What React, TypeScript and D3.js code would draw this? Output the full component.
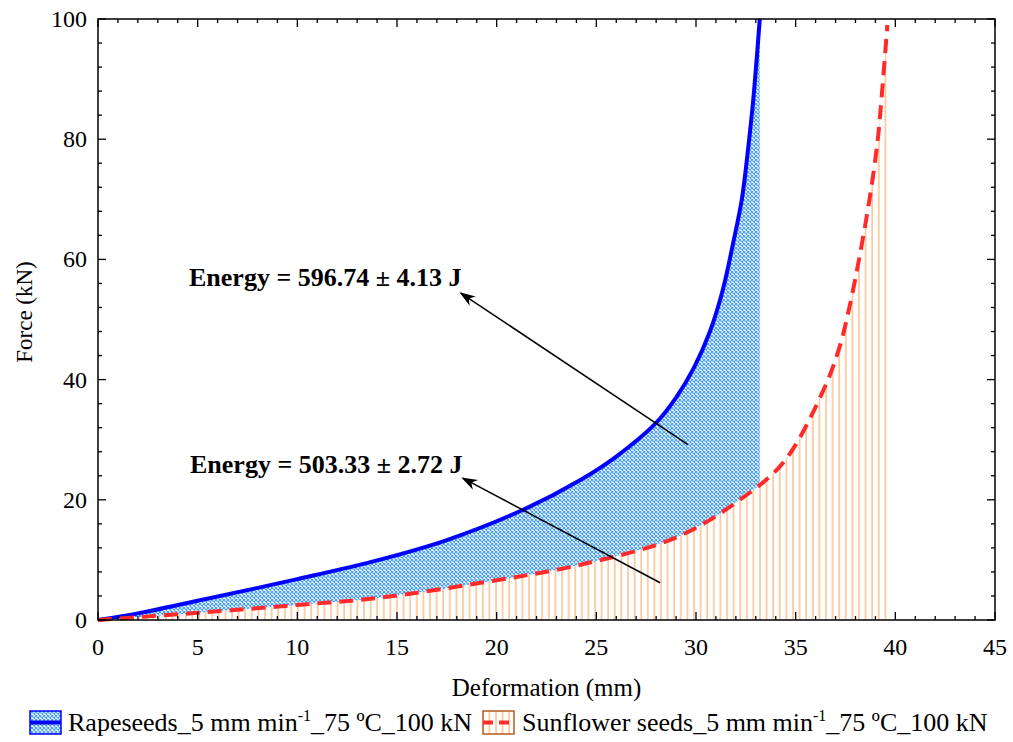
import React from "react";
import * as d3 from "d3";

const rapeDef = [0, 2, 5, 10, 14.1, 17.5, 21.3, 24.2, 26, 28, 29, 29.9, 30.7, 31.35, 31.85, 32.3, 32.6, 32.87, 33.2];
const rapeForce = [0, 1.1, 3.2, 6.8, 10, 13.3, 18.3, 23.3, 27.2, 32.8, 37, 42, 48, 55, 62.5, 70, 78, 86.5, 100];
const sunDef = [0, 5, 10, 14.1, 19.2, 24.2, 29.05, 32.2, 34.4, 36.4, 37.2, 37.7, 38.2, 38.7, 39.1, 39.3, 39.6];
const sunForce = [0, 1.2, 2.5, 3.7, 6.2, 9.2, 13.8, 20, 26.3, 38.3, 45.4, 52.1, 60.4, 69.9, 79.4, 86.5, 99];
const xTicks = [0, 5, 10, 15, 20, 25, 30, 35, 40, 45];
const yTicks = [0, 20, 40, 60, 80, 100];
const annotations = [
  { label: "Energy = 596.74 ± 4.13 J", tx: 189, ty: 286, from: [29.6, 29.2], to: [18.2, 54.4] },
  { label: "Energy = 503.33 ± 2.72 J", tx: 190, ty: 473, from: [28.2, 6.2], to: [18.3, 23.6] },
];

const W = 1013, H = 742;
const L = 98, R = 995, T = 19, B = 620;
const font = "Liberation Serif";

export default function App() {
  const x = d3.scaleLinear().domain([0, 45]).range([L, R]);
  const y = d3.scaleLinear().domain([0, 100]).range([B, T]);
  const rape = rapeDef.map((d, i) => [d, rapeForce[i]] as [number, number]);
  const sun = sunDef.map((d, i) => [d, sunForce[i]] as [number, number]);
  const curve = d3.curveCatmullRom.alpha(0.5);
  const line = d3.line<[number, number]>().x(d => x(d[0])).y(d => y(d[1])).curve(curve);
  const area = d3.area<[number, number]>().x(d => x(d[0])).y0(y(0)).y1(d => y(d[1])).curve(curve);
  const minorX = d3.range(0, 46, 1);
  const minorY = d3.range(0, 101, 4);
  const tf = { fontFamily: font };
  return (
    <svg width={W} height={H} style={{ position: "absolute", left: 0, top: 0 }}>
      <defs>
        <pattern id="blueHatch" patternUnits="userSpaceOnUse" width="4" height="4">
          <rect width="4" height="4" fill="#ffffff" />
          <path d="M0,0 L4,4 M4,0 L0,4" stroke="#3f9cf5" strokeWidth="1.1" />
        </pattern>
        <pattern id="orangeHatch" patternUnits="userSpaceOnUse" width="6.6" height="10">
          <rect width="6.6" height="10" fill="#ffffff" />
          <line x1="1" y1="0" x2="1" y2="10" stroke="#f7b77c" strokeWidth="1.3" />
        </pattern>
        <marker id="arr" viewBox="0 0 10 10" refX="9" refY="5" markerWidth="16" markerHeight="16" markerUnits="userSpaceOnUse" orient="auto">
          <path d="M0,1.5 L10,5 L0,8.5 L3,5 Z" fill="#000" />
        </marker>
      </defs>
      <rect x={0} y={0} width={W} height={H} fill="#fff" />
      <path d={area(rape) || ""} fill="url(#blueHatch)" />
      <path d={area(sun) || ""} fill="url(#orangeHatch)" />
      <path d={line(rape) || ""} fill="none" stroke="#0000ff" strokeWidth={4} />
      <path d={line(sun) || ""} fill="none" stroke="#ff2a2a" strokeWidth={4} strokeDasharray="14,8" />
      {annotations.map((a, i) => (
        <g key={i}>
          <line x1={x(a.from[0])} y1={y(a.from[1])} x2={x(a.to[0])} y2={y(a.to[1])} stroke="#000" strokeWidth={1.5} markerEnd="url(#arr)" />
          <text x={a.tx} y={a.ty} fontSize={26} fontWeight="bold" style={tf}>{a.label}</text>
        </g>
      ))}
      <rect x={L} y={T} width={R - L} height={B - T} fill="none" stroke="#000" strokeWidth={1.5} />
      {minorX.map(v => {
        const len = v % 5 === 0 ? 8 : 4;
        return (
          <g key={"mx" + v}>
            <line x1={x(v)} x2={x(v)} y1={B} y2={B - len} stroke="#000" strokeWidth={1.3} />
            <line x1={x(v)} x2={x(v)} y1={T} y2={T + len} stroke="#000" strokeWidth={1.3} />
          </g>
        );
      })}
      {minorY.map(v => {
        const len = v % 20 === 0 ? 8 : 4;
        return (
          <g key={"my" + v}>
            <line x1={L} x2={L + len} y1={y(v)} y2={y(v)} stroke="#000" strokeWidth={1.3} />
            <line x1={R} x2={R - len} y1={y(v)} y2={y(v)} stroke="#000" strokeWidth={1.3} />
          </g>
        );
      })}
      {xTicks.map(v => (
        <text key={"xt" + v} x={x(v)} y={655} fontSize={24} textAnchor="middle" style={tf}>{v}</text>
      ))}
      {yTicks.map(v => (
        <text key={"yt" + v} x={L - 11} y={y(v) + 8} fontSize={24} textAnchor="end" style={tf}>{v}</text>
      ))}
      <text x={(L + R) / 2} y={696} fontSize={25} textAnchor="middle" style={tf}>Deformation (mm)</text>
      <text transform="translate(32,312) rotate(-90)" fontSize={23} textAnchor="middle" style={tf}>Force (kN)</text>
      <g>
        <rect x={30} y={711} width={31} height={23} fill="url(#blueHatch)" stroke="#0000ff" strokeWidth={1.5} />
        <line x1={30} x2={61} y1={722.5} y2={722.5} stroke="#0000ff" strokeWidth={4} />
        <text x={68} y={731} fontSize={26} style={tf}>
          Rapeseeds_5 mm min<tspan dy={-10} fontSize={16}>-1</tspan><tspan dy={10}>_75 ºC_100 kN</tspan>
        </text>
        <rect x={483} y={711} width={31} height={23} fill="url(#orangeHatch)" stroke="#b85a1c" strokeWidth={1.5} />
        <line x1={483} x2={514} y1={722.5} y2={722.5} stroke="#ff2a2a" strokeWidth={4} strokeDasharray="10,6" />
        <text x={522} y={731} fontSize={26} style={tf}>
          Sunflower seeds_5 mm min<tspan dy={-10} fontSize={16}>-1</tspan><tspan dy={10}>_75 ºC_100 kN</tspan>
        </text>
      </g>
    </svg>
  );
}
